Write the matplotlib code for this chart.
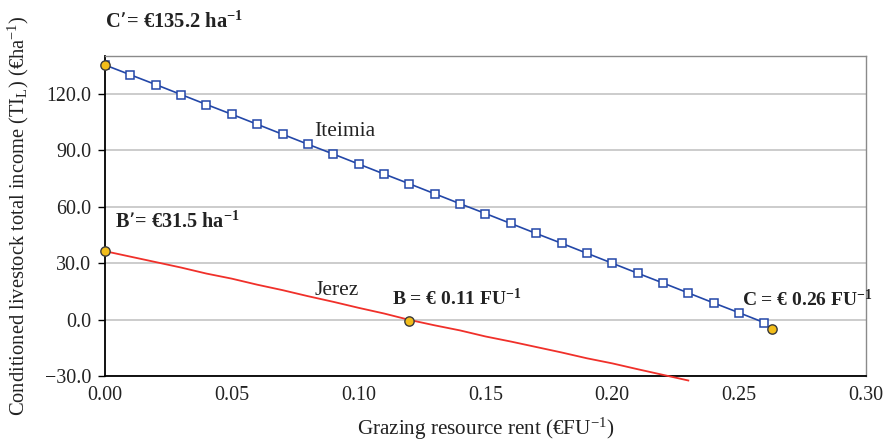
import matplotlib
matplotlib.use("Agg")
import matplotlib.pyplot as plt

plt.rcParams['font.family'] = ['Liberation Serif', 'DejaVu Serif']
plt.rcParams['mathtext.default'] = 'regular'

# Data
rent = [i / 100 for i in range(27)]
iteimia = [135.2, 130.0, 124.8, 119.5, 114.2, 109.0, 103.7, 98.4, 93.1, 87.9,
           82.6, 77.3, 72.1, 66.8, 61.5, 56.3, 51.0, 45.7, 40.5, 35.2,
           29.9, 24.6, 19.4, 14.1, 8.8, 3.6, -1.7]
jerez_rent = [i / 100 for i in range(24)]
jerez = [36.3, 33.4, 30.5, 27.6, 24.4, 21.7, 18.5, 15.6, 12.4, 9.4,
         6.2, 3.2, -0.2, -3.1, -5.8, -9.0, -11.7, -14.6, -17.5, -20.6,
         -23.3, -26.4, -29.4, -32.4]
key_x = [0.0, 0.0, 0.12, 0.263]
key_y = [135.2, 36.3, -1.0, -5.0]
yticks = [-30, 0, 30, 60, 90, 120]
xticks = [0.0, 0.05, 0.10, 0.15, 0.20, 0.25, 0.30]

fig = plt.figure(figsize=(8.91, 4.44), dpi=100)
ax = fig.add_axes([0.1178, 0.1532, 0.854, 0.7208])

ax.set_xlim(0, 0.30)
ax.set_ylim(-30, 140)
ax.set_yticks(yticks)
ax.set_yticklabels([f"{v:.1f}".replace('-', '\u2212') for v in yticks])
ax.set_xticks(xticks)
ax.set_xticklabels([f"{v:.2f}" for v in xticks])
ax.grid(axis='y', color='#c4c4c4', linewidth=1.2)
ax.set_axisbelow(True)

for s in ['top', 'right']:
    ax.spines[s].set_color('#8a8a8a')
    ax.spines[s].set_linewidth(1.0)
for s in ['left', 'bottom']:
    ax.spines[s].set_color('black')
    ax.spines[s].set_linewidth(1.3)
ax.tick_params(axis='y', direction='out', length=5, width=1, labelsize=14.4, pad=5,
               labelcolor='#222222')
ax.tick_params(axis='x', length=0, labelsize=14.4, pad=7, labelcolor='#222222')

ax.plot(rent, iteimia, color='#2347a8', linewidth=1.2, marker='s', markersize=5.2,
        markerfacecolor='white', markeredgecolor='#2347a8', markeredgewidth=1.1, zorder=3)
ax.plot(jerez_rent, jerez, color='#f0302a', linewidth=1.3, zorder=3, clip_on=False)
ax.scatter(key_x, key_y, s=45, facecolor='#f2bd1a', edgecolor='#3a3a3a',
           linewidth=1.0, zorder=5, clip_on=False)

ax.text(0.0826, 100, 'Iteimia', fontsize=15.5, color='#222222', va='center')
ax.text(0.0826, 15.5, 'Jerez', fontsize=15.5, color='#222222', va='center')
ax.text(0.004, 51.5, 'B\u2019= \u20ac31.5 ha$^{-1}$', fontsize=14.5, fontweight='bold',
        color='#222222', va='center')
ax.text(0.113, 11, 'B = \u20ac 0.11 FU$^{-1}$', fontsize=14, fontweight='bold',
        color='#222222', va='center')
ax.text(0.251, 10.5, 'C = \u20ac 0.26 FU$^{-1}$', fontsize=14, fontweight='bold',
        color='#222222', va='center')
fig.text(0.118, 0.950, 'C\u2019= \u20ac135.2 ha$^{-1}$', fontsize=14.8, fontweight='bold',
         color='#222222', va='center')

ax.set_xlabel('Grazing resource rent (\u20acFU$^{-1}$)', fontsize=15.2, labelpad=8, color='#222222')
ax.set_ylabel('Conditioned livestock total income (TI$_{L}$) (\u20acha$^{-1}$)', fontsize=14.8,
              color='#222222')
ax.yaxis.set_label_coords(-0.097, 0.5)

fig.savefig('out.png', dpi=100)
